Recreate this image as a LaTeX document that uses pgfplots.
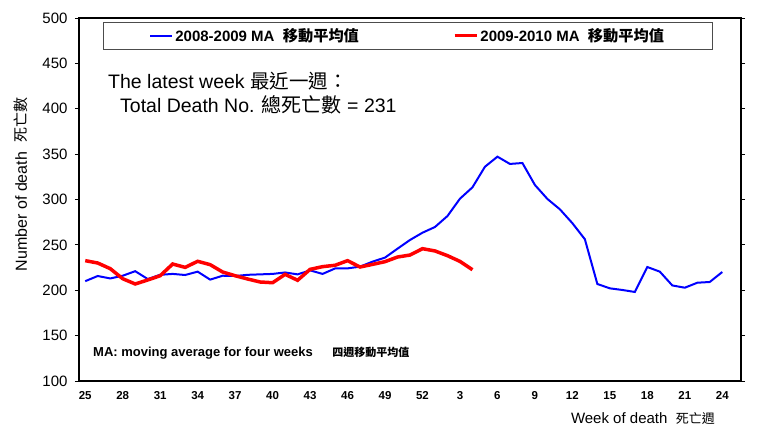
\documentclass[border=0pt]{standalone}
\usepackage{fontspec}
\setmainfont{Liberation Sans}
\newfontfamily\cjk{Noto Sans CJK TC}
\usepackage{pgfplots}
\pgfplotsset{compat=1.18}
\usepackage{pgfplotstable}

\pgfplotstableread{
i a
0 210
1 215.7
2 213
3 216
4 221
5 212.4
6 217
7 218
8 216.8
9 220.5
10 211.7
11 216
12 215.7
13 217
14 217.5
15 218
16 219.6
17 217.5
18 221.9
19 218
20 224
21 224.1
22 226
23 231.5
24 236
25 245.8
26 255.4
27 263.4
28 269.7
29 281.8
30 300.9
31 313.4
32 336.1
33 347.2
34 339.2
35 340.2
36 316
37 300.6
38 289.2
39 273.9
40 256.2
41 206.9
42 202.1
43 200.3
44 198.1
45 225.6
46 220.5
47 205.3
48 202.8
49 208.3
50 209.1
51 220.1
}\blueA

\pgfplotstableread{
i a
0 232.6
1 230
2 223.8
3 212.7
4 206.9
5 211.3
6 216
7 228.9
8 225.2
9 231.9
10 228.2
11 220.1
12 216
13 212.4
14 209.1
15 208.3
16 217.5
17 211
18 223
19 226
20 227.5
21 232.6
22 225.6
23 228.5
24 231.5
25 236.6
26 238.8
27 245.8
28 243.3
29 238.1
30 231.8
31 222.6
}\redA

\begin{document}
\begin{tikzpicture}
\begin{axis}[name=ax,
  scale only axis, width=662pt, height=363pt,
  xmin=-0.5, xmax=52.5, ymin=100, ymax=500,
  xtick={0,3,...,51},
  xticklabels={25,28,31,34,37,40,43,46,49,52,3,6,9,12,15,18,21,24},
  extra x ticks={-0.5,2.5,...,51},
  extra x tick labels={},
  tick align=outside,
  major tick length=4pt,
  xtick style={draw=none},
  extra x tick style={major tick length=4pt, tick style={draw=black, line width=0.8pt}},
  ytick={100,150,...,500},
  ytick style={black, line width=0.8pt},
  axis line style={line width=1.2pt},
  /pgf/number format/assume math mode=true,
  xticklabel style={font=\bfseries\fontsize{11.5}{13}\selectfont, yshift=-3pt},
  yticklabel style={font=\fontsize{15}{17}\selectfont, xshift=-4pt},
  legend columns=2,
  legend style={at={(axis description cs:0.0362,0.989)}, anchor=north west,
    draw=black!70, line width=0.8pt, inner xsep=46pt, inner ysep=4pt,
    font=\bfseries\fontsize{15}{16}\selectfont,
    /tikz/every even column/.append style={column sep=92pt}},
  legend image code/.code={\draw[#1] (0pt,0pt) -- (22pt,0pt);},
]
\addplot[blue, line width=2pt] table[x=i, y=a]{\blueA};
\addlegendentry{2008-2009 MA\ \ {\cjk\fontsize{15.2}{14}\selectfont 移動平均值}}
\addplot[red, line width=3.5pt] table[x=i, y=a]{\redA};
\addlegendentry{2009-2010 MA\ \ {\cjk\fontsize{15.2}{14}\selectfont 移動平均值}}
\end{axis}
\node[anchor=base west, font=\fontsize{19.5}{22}\selectfont, inner sep=0pt]
  at ([shift={(29pt,-71pt)}]ax.north west) {The latest week {\cjk 最近一週：}};
\node[anchor=base west, font=\fontsize{19.5}{22}\selectfont, inner sep=0pt]
  at ([shift={(41pt,-95pt)}]ax.north west) {Total Death No. {\cjk\fontsize{20}{22}\selectfont 總死亡數} = 231};
\node[anchor=base west, font=\bfseries\fontsize{13}{14}\selectfont, inner sep=0pt]
  at ([shift={(14pt,24pt)}]ax.south west) {MA: moving average for four weeks\hspace{1.5em}{\cjk\fontsize{11}{12}\selectfont 四週移動平均值}};
\node[anchor=base east, font=\fontsize{15}{17}\selectfont, inner sep=0pt]
  at ([shift={(-26pt,-43pt)}]ax.south east) {Week of death\ \ {\cjk\fontsize{13}{14}\selectfont 死亡週}};
\node[rotate=90, anchor=base, font=\fontsize{16}{18}\selectfont, inner sep=0pt]
  at ([shift={(-52pt,15pt)}]ax.west) {Number of death\ \ {\cjk\fontsize{15}{15}\selectfont 死亡數}};
\pgfresetboundingbox
\path[use as bounding box] ([shift={(-79pt,-49pt)}]ax.south west) rectangle ([shift={(22pt,18pt)}]ax.north east);
\end{tikzpicture}
\end{document}
